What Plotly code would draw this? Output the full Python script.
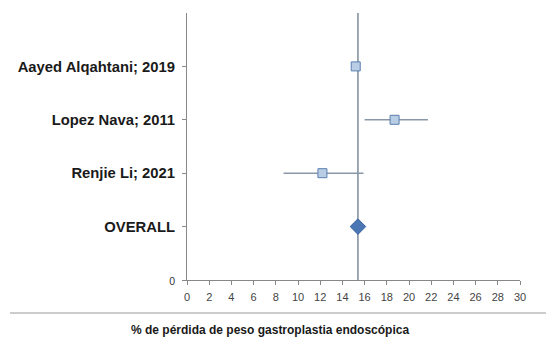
import plotly.graph_objects as go

# Study rows (top to bottom) and the pooled estimate
studies = ["Aayed Alqahtani; 2019", "Lopez Nava; 2011", "Renjie Li; 2021"]
study_pos = [4, 3, 2]
effect = [15.2, 18.7, 12.2]
ci_low = [14.9, 16.0, 8.7]
ci_high = [15.5, 21.7, 15.9]

overall_label = "OVERALL"
overall_pos = 1
overall_effect = 15.4

x_ticks = list(range(0, 31, 2))

W, H = 546, 343
x0_px, x1_px = 187, 520
y_top_px, y_bot_px = 13, 280

fig = go.Figure()

fig.add_trace(go.Scatter(
    x=effect, y=study_pos, mode="markers",
    marker=dict(symbol="square", size=9, color="#b9cde5",
                line=dict(color="#5b7fb0", width=1)),
    error_x=dict(type="data", symmetric=False,
                 array=[h - e for h, e in zip(ci_high, effect)],
                 arrayminus=[e - l for e, l in zip(effect, ci_low)],
                 color="#8a97a6", thickness=1.6, width=0),
    hoverinfo="skip", showlegend=False,
))

fig.add_trace(go.Scatter(
    x=[overall_effect], y=[overall_pos], mode="markers",
    marker=dict(symbol="diamond", size=12, color="#4a77b4",
                line=dict(color="#3a62a0", width=1)),
    hoverinfo="skip", showlegend=False,
))

# Vertical line through the pooled estimate
fig.add_shape(type="line", xref="x", yref="y",
              x0=overall_effect, x1=overall_effect, y0=0, y1=5,
              line=dict(color="#7d8b9a", width=1.5), layer="below")

# Separator rule above the axis title
fig.add_shape(type="line", xref="paper", yref="paper",
              x0=10 / W, x1=1, y0=(H - 313) / H, y1=(H - 313) / H,
              line=dict(color="#9a9a9a", width=1.2))

fig.add_annotation(text="<b>% de pérdida de peso gastroplastia endoscópica</b>",
                   xref="paper", yref="paper", x=270 / W, y=(H - 330) / H,
                   showarrow=False, xanchor="center", yanchor="middle",
                   font=dict(family="Liberation Sans, Arial", size=12, color="#1a1a1a"))

ytickvals = [0] + [overall_pos] + study_pos[::-1]
yticktext = ["<span style='font-weight:normal;font-size:10.5px;color:#333'>0</span>",
             f"<b>{overall_label}</b>"] + [f"<b>{s}</b>" for s in studies[::-1]]

fig.update_layout(
    width=W, height=H,
    margin=dict(l=0, r=0, t=0, b=0),
    paper_bgcolor="white", plot_bgcolor="white",
    font=dict(family="Liberation Sans, Arial", color="#1a1a1a"),
    xaxis=dict(domain=[x0_px / W, x1_px / W], range=[0, 30], automargin=False,
               tickvals=x_ticks, ticktext=[str(v) for v in x_ticks],
               showgrid=False, zeroline=False, showline=True,
               linecolor="#888888", linewidth=1,
               ticks="outside", ticklen=4, tickcolor="#888888",
               tickfont=dict(size=11, color="#444444"), ticklabelstandoff=3),
    yaxis=dict(domain=[(H - y_bot_px) / H, (H - y_top_px) / H], range=[0, 5],
               automargin=False,
               tickvals=ytickvals, ticktext=yticktext,
               showgrid=False, zeroline=False, showline=True,
               linecolor="#888888", linewidth=1,
               ticks="outside", ticklen=4, tickcolor="#888888",
               tickfont=dict(size=14.8, color="#1a1a1a"), ticklabelstandoff=4),
)

fig.write_html("out.html")
